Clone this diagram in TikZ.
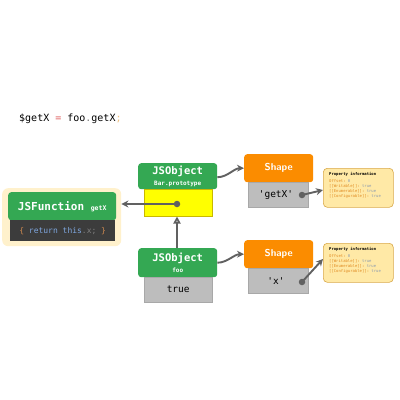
\documentclass[tikz,border=0pt]{standalone}
\usepackage{fontspec}
\setmainfont{DejaVu Sans}
\setmonofont{DejaVu Sans Mono}
\usetikzlibrary{arrows.meta}
\definecolor{hgreen}{HTML}{34A853}
\definecolor{horange}{HTML}{FB8C00}
\definecolor{hgrey}{HTML}{BDBDBD}
\definecolor{hgreyb}{HTML}{A8A8A8}
\definecolor{hyellow}{HTML}{FFFF00}
\definecolor{hyellowb}{HTML}{C9B800}
\definecolor{glowc}{HTML}{FFF1CC}
\definecolor{codebg}{HTML}{3C3C3C}
\definecolor{infofill}{HTML}{FFE9A6}
\definecolor{infoborder}{HTML}{D9A94A}
\definecolor{arrc}{HTML}{616161}
\definecolor{kwblue}{HTML}{7FA7E0}
\definecolor{brc}{HTML}{D08A50}
\definecolor{keyc}{HTML}{E08A20}
\definecolor{valc}{HTML}{8A9AB0}
\definecolor{eqred}{HTML}{E06060}
\definecolor{semic}{HTML}{F0C080}
\tikzset{
  hdrg/.style={fill=hgreen, rounded corners=3pt, anchor=north west, inner sep=0pt, text=white, font=\ttfamily\bfseries, align=center},
  hdro/.style={fill=horange, rounded corners=3pt, anchor=north west, inner sep=0pt, text=white, font=\sffamily\bfseries\fontsize{10}{12}\selectfont},
  greybox/.style={fill=hgrey, draw=hgreyb, line width=0.4pt, anchor=north west, inner sep=0pt, font=\ttfamily\fontsize{9.5}{11}\selectfont},
  infobox/.style={fill=infofill, draw=infoborder, line width=0.6pt, rounded corners=4pt, anchor=north west, minimum width=70pt, minimum height=39pt, inner sep=0pt},
  infotext/.style={anchor=north west, inner sep=0pt, align=left, font=\ttfamily\fontsize{3.9}{5}\selectfont},
  arr/.style={draw=arrc, line width=1.9pt, -{Stealth[length=7pt,width=7pt]}},
  dotc/.style={circle, fill=arrc, inner sep=0pt, minimum size=6.5pt}
}
\begin{document}
\begin{tikzpicture}[x=1pt,y=-1pt]
\useasboundingbox[fill=white] (0,0) rectangle (400,400);

% code line
\node[anchor=west, inner sep=0pt, font=\ttfamily\fontsize{10}{12}\selectfont] (codeline) at (19,119)
  {\$getX {\color{eqred}=} foo{\color{gray}.}getX{\color{semic};}};

% JSFunction
\node[fill=glowc, rounded corners=6pt, anchor=north west, minimum width=119pt, minimum height=58pt, inner sep=0pt] (glow) at (2,188) {};
\node[hdrg, minimum width=108pt, minimum height=28pt] (jsf) at (8,192)
  {\fontsize{11}{12}\selectfont JSFunction {\fontsize{6.5}{7}\selectfont getX}};
\node[fill=codebg, anchor=north west, minimum width=105pt, minimum height=21pt, inner sep=0pt,
  font=\ttfamily\fontsize{8}{9}\selectfont] (code) at (10,220)
  {{\color{brc}\{} {\color{kwblue}return} {\color{kwblue}this}{\color{gray}.x;} {\color{brc}\}}};

% Bar.prototype
\node[hdrg, minimum width=79pt, minimum height=26pt] (bar) at (138,163)
  {{\fontsize{10.5}{11}\selectfont JSObject}\\[-1pt]{\fontsize{6}{7}\selectfont Bar.prototype}};
\node[fill=hyellow, draw=hyellowb, line width=0.5pt, anchor=north west, minimum width=68pt, minimum height=27pt, inner sep=0pt] (ybox) at (144,189) {};
\node[dotc] (dot1) at (177,204) {};

% foo
\node[hdrg, minimum width=79pt, minimum height=29pt] (foo) at (138,248)
  {{\fontsize{10.5}{11}\selectfont JSObject}\\[-1pt]{\fontsize{6}{7}\selectfont foo}};
\node[greybox, minimum width=68pt, minimum height=25pt] (truebox) at (144,277) {true};

% Shapes
\node[hdro, minimum width=69pt, minimum height=28pt] (shape1) at (244,154) {Shape};
\node[greybox, minimum width=60pt, minimum height=25pt] (g1) at (248,182) {};
\node[font=\ttfamily\fontsize{9.5}{11}\selectfont, inner sep=0pt] (k1) at (276,195) {'getX'};
\node[dotc] (dot2) at (302,195) {};

\node[hdro, minimum width=69pt, minimum height=28pt] (shape2) at (244,240) {Shape};
\node[greybox, minimum width=60pt, minimum height=25pt] (g2) at (248,268) {};
\node[font=\ttfamily\fontsize{9.5}{11}\selectfont, inner sep=0pt] (k2) at (276,281) {'x'};
\node[dotc] (dot3) at (302,282) {};

% info boxes
\node[infobox] (info1) at (323,168) {};
\node[infotext] (it1) at (329,172) {\textbf{Property information}\\[2.5pt]
  {\color{keyc}Offset:} {\color{valc}0}\\
  {\color{keyc}[[Writable]]:} {\color{valc}true}\\
  {\color{keyc}[[Enumerable]]:} {\color{valc}true}\\
  {\color{keyc}[[Configurable]]:} {\color{valc}true}};
\node[infobox] (info2) at (323,243) {};
\node[infotext] (it2) at (329,247) {\textbf{Property information}\\[2.5pt]
  {\color{keyc}Offset:} {\color{valc}0}\\
  {\color{keyc}[[Writable]]:} {\color{valc}true}\\
  {\color{keyc}[[Enumerable]]:} {\color{valc}true}\\
  {\color{keyc}[[Configurable]]:} {\color{valc}true}};

% connectors
\draw[arr] (dot1.center) -- (glow.east |- dot1.center);
\draw[draw=arrc, line width=1.9pt, -{Triangle[open, length=7pt, width=7pt]}] (foo.north -| dot1) -- (ybox.south -| dot1);
\draw[arr] (bar.east) ++(0,1) .. controls +(10,0) and +(-10,0) .. (shape1.west);
\draw[arr] (foo.east) ++(0,0) .. controls +(10,0) and +(-10,0) .. (shape2.west);
\draw[arr] (dot2.center) -- (info1.west |- 0,190);
\draw[arr] (dot3.center) -- (info2.west |- 0,259);
\end{tikzpicture}
\end{document}
